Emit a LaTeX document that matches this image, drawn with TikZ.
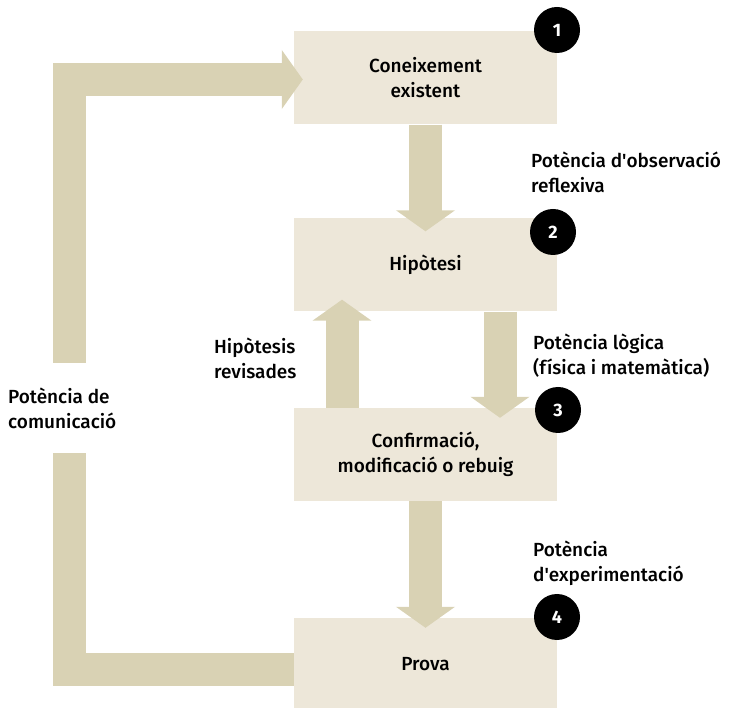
\documentclass[tikz,border=0pt]{standalone}
\usepackage{fontspec}
\setmainfont{Fira Sans}[UprightFont={* Medium}, BoldFont={* Bold}]
\usetikzlibrary{arrows.meta}

\definecolor{boxColor}{RGB}{237,231,217}
\definecolor{arrowColor}{RGB}{217,210,180}

\tikzset{
  stage/.style={fill=boxColor, minimum width=263pt, minimum height=93pt, inner sep=0pt, align=center, font=\fontsize{19}{25}\selectfont},
  badge/.style={circle, fill=black, text=white, minimum size=46pt, inner sep=0pt, font=\fontsize{18}{20}\selectfont\bfseries},
  caption/.style={anchor=west, align=left, inner sep=0pt, font=\fontsize{19}{25}\selectfont},
  flow/.style={draw=arrowColor, line width=33pt, -{Triangle[length=21pt, width=58pt]}},
  band/.style={draw=arrowColor, line width=33pt}
}

\begin{document}
\begin{tikzpicture}[x=1pt, y=-1pt]
  \useasboundingbox (0,0) rectangle (729,708);
  % Stages
  \node[stage] (know) at (425.5,78) {Coneixement\\existent};
  \node[stage] (hyp) at (425.5,265) {Hipòtesi};
  \node[stage] (confirm) at (425.5,454.5) {Confirmació,\\modificació o rebuig};
  \node[stage] (test) at (425.5,664.5) {Prova};
  % Arrows between stages
  \draw[flow] (know.south) -- ([yshift=-13pt]hyp.north);
  \draw[flow] ([xshift=-83.5pt]confirm.north) -- ([xshift=-83.5pt, yshift=12pt]hyp.south);
  \draw[flow] ([xshift=74.5pt]hyp.south) -- ([xshift=74.5pt, yshift=-10pt]confirm.north);
  \draw[flow] (confirm.south) -- ([yshift=-10pt]test.north);
  % Loop back
  \coordinate (gapLow) at (69.5,453);
  \coordinate (gapHigh) at (69.5,363);
  \draw[band] ([yshift=-4.5pt]test.west) -- (69.5,669) -- (gapLow);
  \draw[flow] (gapHigh) -- (69.5,79.5) -- ([xshift=9pt, yshift=-1.5pt]know.west);
  % Badges
  \node[badge] (b1) at (557,30) {1};
  \node[badge] (b2) at (553,232) {2};
  \node[badge] (b3) at (558,410) {3};
  \node[badge] (b4) at (557,617) {4};
  % Labels
  \node[caption] (obs) at (531,172) {Potència d\textquotesingle observació\\reflexiva};
  \node[caption] (logic) at (533,356) {Potència lògica\\(física i matemàtica)};
  \node[caption] (exper) at (533,563) {Potència\\d\textquotesingle experimentació};
  \node[caption] (revised) at (214,358) {Hipòtesis\\revisades};
  \node[caption] (comm) at (8,408) {Potència de\\comunicació};
\end{tikzpicture}
\end{document}
